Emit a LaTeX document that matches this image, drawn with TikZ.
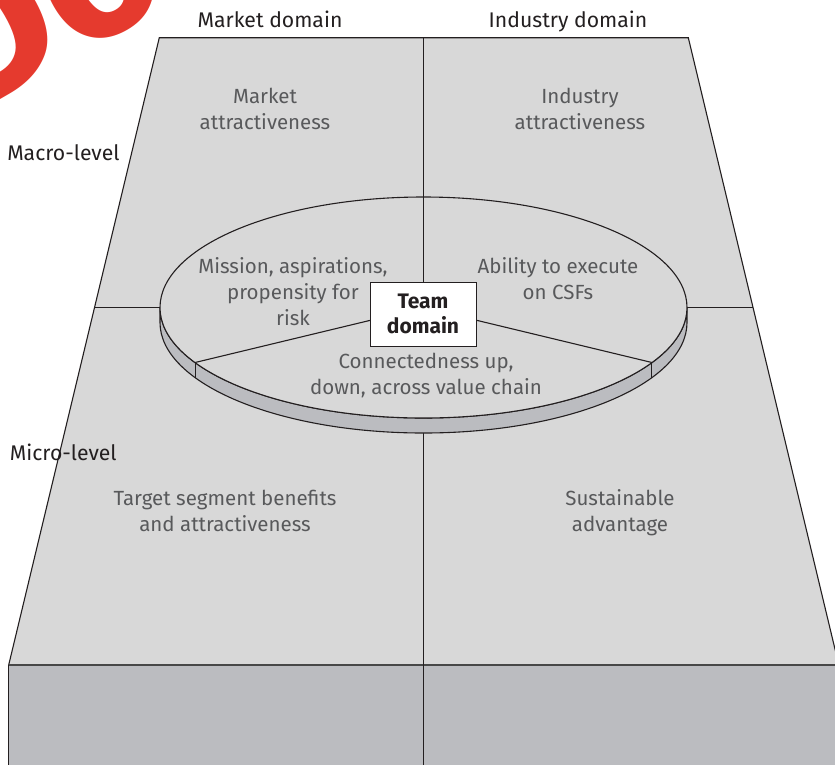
\documentclass[tikz,border=0pt]{standalone}
\usepackage{fontspec}
\setmainfont{Fira Sans}
\definecolor{topgray}{HTML}{D8D8D8}
\definecolor{rimgray}{HTML}{BBBCC0}
\definecolor{linec}{HTML}{231F20}
\definecolor{txtgray}{HTML}{58595B}
\definecolor{wmred}{HTML}{E53A2E}
\newcommand{\firstlinestrut}{\rule{0pt}{16pt}}
\begin{document}
\begin{tikzpicture}[x=1pt,y=-1pt,line width=1.1pt,draw=linec,
  outer/.style={font=\fontsize{21.2}{26}\selectfont,text=linec,inner sep=0pt},
  cell/.style={font=\fontsize{20.5}{26}\selectfont,text=txtgray,align=center,inner sep=0pt,anchor=north},
  teambox/.style={draw=linec,line width=1pt,fill=white,minimum width=106pt,minimum height=64pt,inner sep=0pt,align=center,font=\bfseries\fontsize{21}{25}\selectfont,text=linec}]
\useasboundingbox (0,0) rectangle (835,764);
\clip (0,0) rectangle (835,764);
% watermark
\node[font=\bfseries\fontsize{200}{200}\selectfont,text=wmred,rotate=30,anchor=base west,inner sep=0pt] (wm) at (-38,122) {Do};
% corners
\coordinate (TL) at (159.3,37.7);
\coordinate (TR) at (688.3,37.7);
\coordinate (BR) at (838.8,665);
\coordinate (BL) at (8.7,665);
\coordinate (TM) at (423.5,37.7);
\coordinate (BMB) at (423.5,780);
\coordinate (BLB) at (8.7,780);
\coordinate (BRB) at (850,780);
\coordinate (C) at (423.5,307.5);
\coordinate (ML) at (94.6,307.5);
\coordinate (MR) at (752.6,307.5);
\coordinate (EL) at (160,307.5);
\coordinate (ER) at (687,307.5);
\coordinate (ET) at (423.5,197);
\coordinate (SL) at (195.1,362.5);
\coordinate (SR) at (651.9,362.5);
% top face
\filldraw[fill=topgray] (TL) -- (TR) -- (BR) -- (BL) -- cycle;
% front face
\fill[rimgray] (BL) rectangle (BRB);
\draw (BL) -- (BLB);
\draw[line width=1.8pt,draw=black!72] (BL) -- (BR);
% dividing lines
\draw (TM) -- (BMB);
\draw (ML) -- (MR);
% disc rim
\filldraw[fill=rimgray] (EL) -- ++(0,15) arc[start angle=180,end angle=360,x radius=263.5pt,y radius=110.5pt] -- (ER) arc[start angle=0,end angle=-180,x radius=263.5pt,y radius=110.5pt] -- cycle;
% disc top
\filldraw[fill=topgray] (C) ellipse [x radius=263.5pt,y radius=110.5pt];
\draw (SL) -- ++(0,15);
\draw (SR) -- ++(0,15);
\draw (C) -- (SL);
\draw (C) -- (SR);
\draw (C) -- (ET);
\node[teambox] (team) at (423,314) {Team\\domain};
% labels
\node[outer,anchor=base] (mkt) at (270,27) {Market domain};
\node[outer,anchor=base] (ind) at (568,27) {Industry domain};
\node[outer,anchor=base west] (macro) at (6.7,160) {Macro-level};
\node[outer,anchor=base west] (micro) at (9.3,460) {Micro-level};
% cell texts
\node[cell] (ma) at (265,87) {\firstlinestrut Market\\attractiveness};
\node[cell] (ia) at (580,87) {\firstlinestrut Industry\\attractiveness};
\node[cell] (mis) at (293,257) {\firstlinestrut Mission, aspirations,\\propensity for\\risk};
\node[cell] (abi) at (558,257) {\firstlinestrut Ability to execute\\on CSFs};
\node[cell] (con) at (426,352) {\firstlinestrut Connectedness up,\\down, across value chain};
\node[cell] (tsb) at (225,489) {\firstlinestrut Target segment benefits\\and attractiveness};
\node[cell] (sus) at (620,489) {\firstlinestrut Sustainable\\advantage};
\end{tikzpicture}
\end{document}
